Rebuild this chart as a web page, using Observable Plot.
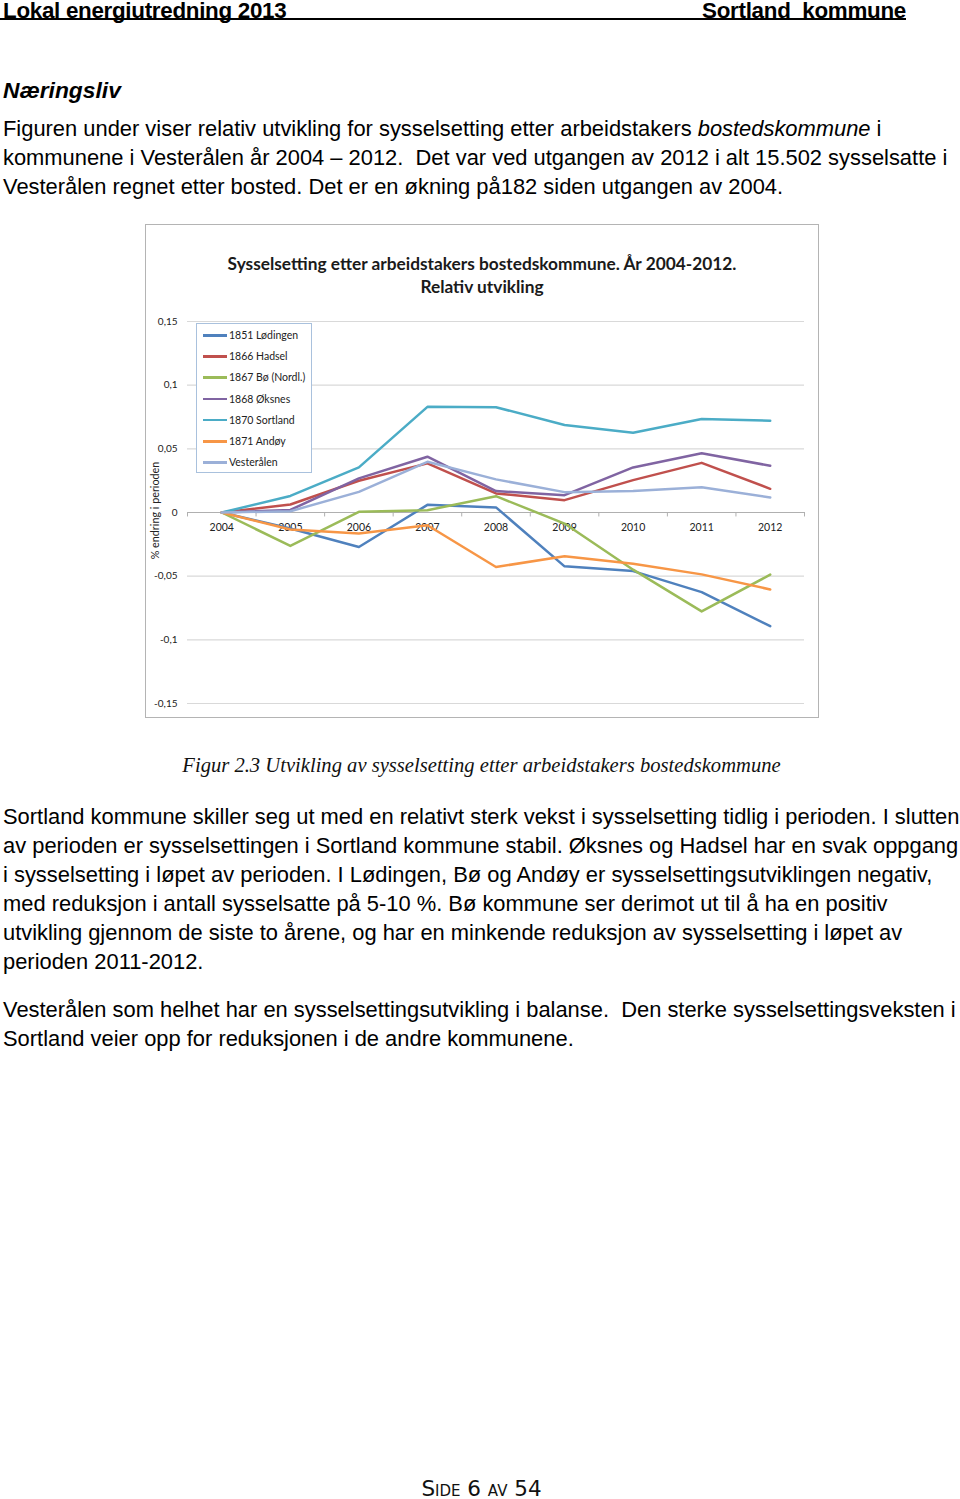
<!DOCTYPE html>
<html>
<head>
<meta charset="utf-8">
<script src="https://cdn.jsdelivr.net/npm/d3@7"></script>
<script src="https://cdn.jsdelivr.net/npm/@observablehq/plot@0.6"></script>
<style>
  html, body { margin: 0; padding: 0; background: #fff; }
  body { width: 960px; height: 1499px; position: relative; overflow: hidden; font-family: "Liberation Sans", Arial, sans-serif; color: #000; }
  .abs { position: absolute; white-space: nowrap; }
  .para { font-size: 21.9px; line-height: 29px; }
  .hdr { font-size: 22.4px; font-weight: bold; letter-spacing: -0.3px; line-height: 22px; top: 0px; }
  #chartbox { position: absolute; left: 145px; top: 224px; width: 672px; height: 492px; border: 1.5px solid #b4b4b4; }
  .ctitle { font-family: Lato, "Open Sans", sans-serif; font-weight: bold; font-size: 17.3px; color: #1a1a1a; text-align: center; width: 674px; left: 145px; }
  #legend { position: absolute; left: 196px; top: 323px; width: 114px; height: 148px; border: 1px solid #a9c1dd; background: #fff; font-family: Lato, "Open Sans", sans-serif; font-size: 10.5px; color: #222; }
  #legend .row { position: absolute; left: 6px; height: 14px; line-height: 14px; white-space: nowrap; }
  #legend .sw { display: inline-block; width: 24px; height: 2.5px; vertical-align: middle; margin-right: 2px; position: relative; top: -1px; }
</style>
</head>
<body>
<script>
// ---- Data ----
const years = [2004, 2005, 2006, 2007, 2008, 2009, 2010, 2011, 2012];
const seriesNames = ["1851 Lødingen", "1866 Hadsel", "1867 Bø (Nordl.)", "1868 Øksnes", "1870 Sortland", "1871 Andøy", "Vesterålen"];
const lodingen   = [0, -0.0126, -0.0271, 0.0060, 0.0040, -0.0423, -0.0460, -0.0625, -0.0893];
const hadsel     = [0, 0.0063, 0.0249, 0.0386, 0.0150, 0.0097, 0.0254, 0.0390, 0.0186];
const bo         = [0, -0.0263, 0.0005, 0.0018, 0.0128, -0.0087, -0.0449, -0.0777, -0.0488];
const oksnes     = [0, 0.0020, 0.0268, 0.0438, 0.0168, 0.0136, 0.0354, 0.0465, 0.0367];
const sortland   = [0, 0.0130, 0.0354, 0.0830, 0.0827, 0.0687, 0.0627, 0.0735, 0.0721];
const andoy      = [0, -0.0134, -0.0165, -0.0100, -0.0428, -0.0344, -0.0402, -0.0486, -0.0604];
const vesteralen = [0, 0.0010, 0.0162, 0.0398, 0.0260, 0.0160, 0.0168, 0.0199, 0.0118];
const seriesColors = ["#4F81BD", "#C0504D", "#9BBB59", "#8064A2", "#4BACC6", "#F79646", "#9BB0D8"];
const yTicks = [-0.15, -0.1, -0.05, 0, 0.05, 0.1, 0.15];
const chartTitle = ["Sysselsetting etter arbeidstakers bostedskommune. År 2004-2012.", "Relativ utvikling"];
const yLabel = "% endring i perioden";
</script>

<!-- Header -->
<div class="abs hdr" style="left:3px;">Lokal energiutredning 2013</div>
<div class="abs hdr" style="right:54px;">Sortland&nbsp; kommune</div>
<div class="abs" style="left:0; top:18px; width:906px; height:2px; background:#000;"></div>

<div class="abs" style="left:3px; top:77px; font-size:22.8px; font-weight:bold; font-style:italic;">Næringsliv</div>
<div class="abs para" style="left:3px; top:114px;">Figuren under viser relativ utvikling for sysselsetting etter arbeidstakers <i>bostedskommune</i> i<br>kommunene i Vesterålen år 2004 – 2012.&nbsp; Det var ved utgangen av 2012 i alt 15.502 sysselsatte i<br>Vesterålen regnet etter bosted. Det er en økning på182 siden utgangen av 2004.</div>

<!-- Chart -->
<div id="chartbox"></div>
<div id="titles"></div>
<div id="plot" style="position:absolute; left:145px; top:300px;"></div>
<div id="ylab" class="abs" style="font-family:Lato,'Open Sans',sans-serif; font-size:10.8px; color:#222; left:104px; top:504px; width:100px; text-align:center; transform:rotate(-90deg);"></div>
<div id="legend"></div>

<div class="abs" style="left:0; width:963px; text-align:center; top:754px; font-family:'Liberation Serif',serif; font-style:italic; font-size:20.6px; color:#111;">Figur 2.3 Utvikling av sysselsetting etter arbeidstakers bostedskommune</div>

<div class="abs para" style="left:3px; top:802px;">Sortland kommune skiller seg ut med en relativt sterk vekst i sysselsetting tidlig i perioden. I slutten<br>av perioden er sysselsettingen i Sortland kommune stabil. Øksnes og Hadsel har en svak oppgang<br>i sysselsetting i løpet av perioden. I Lødingen, Bø og Andøy er sysselsettingsutviklingen negativ,<br>med reduksjon i antall sysselsatte på 5-10 %. Bø kommune ser derimot ut til å ha en positiv<br>utvikling gjennom de siste to årene, og har en minkende reduksjon av sysselsetting i løpet av<br>perioden 2011-2012.</div>
<div class="abs para" style="left:3px; top:995px;">Vesterålen som helhet har en sysselsettingsutvikling i balanse.&nbsp; Den sterke sysselsettingsveksten i<br>Sortland veier opp for reduksjonen i de andre kommunene.</div>

<div class="abs" style="left:0; width:963px; text-align:center; top:1476px; font-family:'DejaVu Sans',sans-serif; font-size:21.5px; font-variant:small-caps; color:#111;">Side 6 av 54</div>

<script>
const allSeries = [lodingen, hadsel, bo, oksnes, sortland, andoy, vesteralen];
const rows = [];
allSeries.forEach((vals, si) => vals.forEach((v, i) => rows.push({series: seriesNames[si], year: years[i], value: v})));
const boundaries = years.map(y => y - 0.5).concat([years[years.length - 1] + 0.5]);

// titles
const t = document.getElementById("titles");
chartTitle.forEach((s, i) => {
  const d = document.createElement("div");
  d.className = "abs ctitle";
  d.style.top = (253 + i * 23) + "px";
  d.textContent = s;
  t.appendChild(d);
});
document.getElementById("ylab").textContent = yLabel;

const fmt = d => d === 0 ? "0" : String(d).replace(".", ",");

const chart = Plot.plot({
  width: 674,
  height: 418,
  marginLeft: 42,
  marginRight: 15,
  marginTop: 21,
  marginBottom: 15,
  style: {fontFamily: "Lato, 'Open Sans', sans-serif", fontSize: "10px", background: "transparent", color: "#222", overflow: "visible"},
  x: {domain: [years[0] - 0.5, years[years.length - 1] + 0.5], axis: null},
  y: {domain: [-0.15, 0.15], axis: null},
  color: {domain: seriesNames, range: seriesColors},
  marks: [
    Plot.ruleY(yTicks.filter(d => d !== 0), {stroke: "#d9d9d9", strokeWidth: 1.2}),
    Plot.ruleY([0], {stroke: "#b0b0b0", strokeWidth: 1.2}),
    Plot.ruleX(boundaries, {y1: 0, y2: -0.0035, stroke: "#b0b0b0"}),
    Plot.axisY(yTicks, {tickSize: 0, tickPadding: 10, tickFormat: fmt, fontSize: 10, fill: "#222", label: null}),
    Plot.text(years, {x: d => d, y: 0, dy: 15, text: d => String(d), fontSize: 10.5, fill: "#222"}),
    Plot.line(rows, {x: "year", y: "value", z: "series", stroke: "series", strokeWidth: 2.5, strokeLinejoin: "round"})
  ]
});
document.getElementById("plot").appendChild(chart);

// legend
const lg = document.getElementById("legend");
seriesNames.forEach((name, i) => {
  const r = document.createElement("div");
  r.className = "row";
  r.style.top = (4 + i * 21.2) + "px";
  r.innerHTML = `<span class="sw" style="background:${seriesColors[i]}"></span>`;
  r.appendChild(document.createTextNode(name));
  lg.appendChild(r);
});
</script>
</body>
</html>
